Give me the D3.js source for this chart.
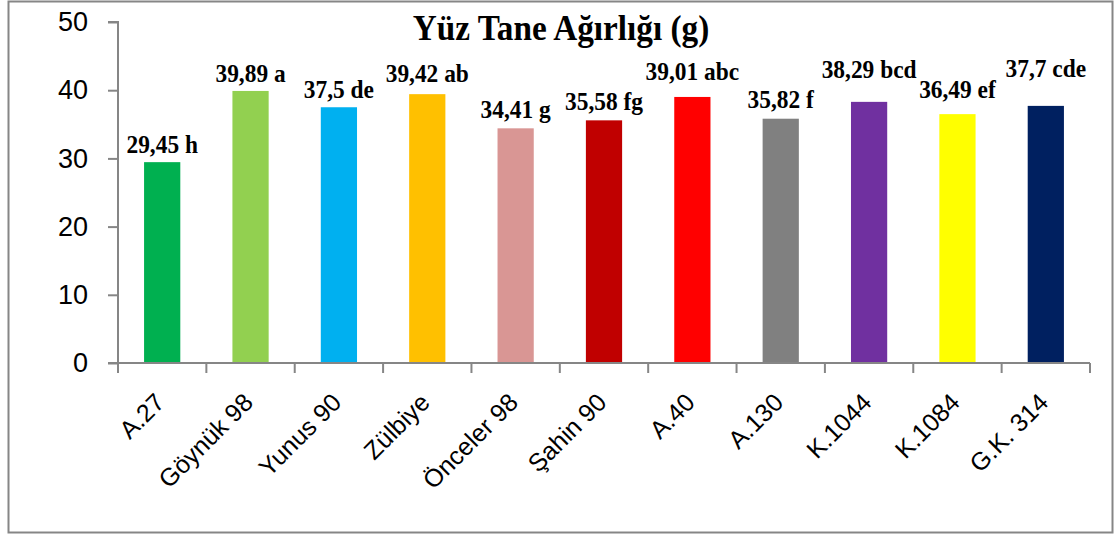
<!DOCTYPE html>
<html>
<head>
<meta charset="utf-8">
<script src="https://cdn.jsdelivr.net/npm/d3@7"></script>
<style>
  body { margin: 0; background: #fff; }
  svg { display: block; }
</style>
</head>
<body>
<script>
// chart data
var cultivars = ["A.27", "Göynük 98", "Yunus 90", "Zülbiye", "Önceler 98", "Şahin 90", "A.40", "A.130", "K.1044", "K.1084", "G.K. 314"];
var weights = [29.45, 39.89, 37.5, 39.42, 34.41, 35.58, 39.01, 35.82, 38.29, 36.49, 37.7];
var letters = ["h", "a", "de", "ab", "g", "fg", "abc", "f", "bcd", "ef", "cde"];
var yTicks = [0, 10, 20, 30, 40, 50];
var barColors = ["#00B050", "#92D050", "#00B0F0", "#FFC000", "#D99694", "#C00000", "#FF0000", "#808080", "#7030A0", "#FFFF00", "#002060"];
// labels were dragged by hand in the original, extra lift above bar top (px)
var labelLift = [0, 0, 0, 3, 1, 1, 8, 2, 15, 7, 20];

var W = 1115, H = 536;
var margin = {top: 22, right: 25, bottom: 173, left: 118};
var width = 1090 - margin.left,
    height = 363 - margin.top;

var svg = d3.select("body").append("svg")
    .attr("width", W)
    .attr("height", H);

// outer frame
svg.append("rect")
    .attr("x", 8.5).attr("y", 1.5)
    .attr("width", 1104).attr("height", 531)
    .attr("fill", "#fff")
    .attr("stroke", "#868686")
    .attr("stroke-width", 2);

var g = svg.append("g")
    .attr("transform", "translate(" + margin.left + "," + margin.top + ")");

var x = d3.scaleBand()
    .domain(cultivars)
    .range([0, width])
    .paddingInner(0.59)
    .paddingOuter(0.295);

var y = d3.scaleLinear()
    .domain([0, 50])
    .range([height, 0]);

// bars
g.selectAll(".bar")
    .data(weights)
    .enter()
    .append("rect")
    .attr("class", "bar")
    .attr("x", function(d, i) { return x(cultivars[i]); })
    .attr("y", function(d) { return y(d); })
    .attr("width", x.bandwidth())
    .attr("height", function(d) { return height - y(d); })
    .attr("fill", function(d, i) { return barColors[i]; });

// y axis
var yAxis = g.append("g")
    .call(d3.axisLeft(y).tickValues(yTicks).tickSize(10).tickPadding(20).tickFormat(d3.format("d")));
yAxis.selectAll("path, line").attr("stroke", "#868686").attr("stroke-width", 2);
yAxis.select(".domain").attr("d", "M0," + height + "V0H-10");
yAxis.selectAll("text")
    .attr("font-family", "Liberation Sans, Arial, sans-serif")
    .attr("font-size", 27)
    .attr("fill", "#000");

// x axis - ticks on category boundaries like excel
var xAxis = g.append("g").attr("transform", "translate(0," + height + ")");
xAxis.append("line")
    .attr("x1", -10).attr("x2", width)
    .attr("stroke", "#868686").attr("stroke-width", 2);
var bounds = d3.range(cultivars.length + 1).map(function(i) { return i * x.step(); });
xAxis.selectAll(".tk")
    .data(bounds)
    .enter()
    .append("line")
    .attr("x1", function(d) { return d; })
    .attr("x2", function(d) { return d; })
    .attr("y1", 0).attr("y2", 10)
    .attr("stroke", "#868686").attr("stroke-width", 2);

xAxis.selectAll(".xl")
    .data(cultivars)
    .enter()
    .append("text")
    .attr("text-anchor", "end")
    .attr("transform", function(d) {
        return "translate(" + (x(d) + x.bandwidth() / 2 + 4) + "," + 41 + ") rotate(-45)";
    })
    .attr("font-family", "Comic Sans MS, Liberation Sans, sans-serif")
    .attr("font-size", 25)
    .attr("fill", "#000")
    .text(function(d) { return d; });

// value labels (narrow, tall glyphs like the original)
g.selectAll(".vl")
    .data(weights)
    .enter()
    .append("text")
    .attr("text-anchor", "middle")
    .attr("transform", function(d, i) {
        var cx = x(cultivars[i]) + x.bandwidth() / 2;
        return "translate(" + cx + "," + (y(d) - 9 - labelLift[i]) + ") scale(0.9,1)";
    })
    .attr("font-family", "Liberation Serif, Times New Roman, serif")
    .attr("font-weight", "bold")
    .attr("font-size", 26)
    .attr("fill", "#000")
    .text(function(d, i) { return String(d).replace(".", ",") + " " + letters[i]; });

// title
svg.append("text")
    .attr("transform", "translate(561,40) scale(0.95,1)")
    .attr("text-anchor", "middle")
    .attr("font-family", "Liberation Serif, Times New Roman, serif")
    .attr("font-weight", "bold")
    .attr("font-size", 35)
    .attr("fill", "#000")
    .text("Yüz Tane Ağırlığı (g)");
</script>
</body>
</html>
